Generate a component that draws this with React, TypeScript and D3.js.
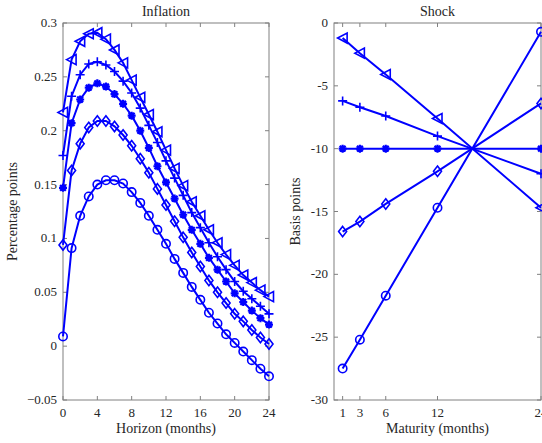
import React from 'react'
import * as d3 from 'd3'

// impulse responses of inflation, horizons 0..24 months
const horizon = [0, 1, 2, 3, 4, 5, 6, 7, 8, 9, 10, 11, 12, 13, 14, 15, 16, 17, 18, 19, 20, 21, 22, 23, 24]
const inflTriangle = [0.217, 0.266, 0.283, 0.290, 0.291, 0.285, 0.275, 0.263, 0.247, 0.231, 0.215, 0.199, 0.182, 0.165, 0.149, 0.134, 0.121, 0.108, 0.096, 0.085, 0.075, 0.066, 0.059, 0.052, 0.046]
const inflPlus = [0.177, 0.232, 0.252, 0.262, 0.264, 0.261, 0.255, 0.246, 0.235, 0.221, 0.205, 0.189, 0.172, 0.156, 0.140, 0.124, 0.110, 0.096, 0.083, 0.071, 0.060, 0.051, 0.044, 0.037, 0.030]
const inflStar = [0.147, 0.207, 0.229, 0.240, 0.244, 0.241, 0.234, 0.225, 0.214, 0.200, 0.184, 0.167, 0.152, 0.137, 0.122, 0.108, 0.095, 0.082, 0.071, 0.060, 0.049, 0.041, 0.033, 0.026, 0.020]
const inflDiamond = [0.094, 0.163, 0.188, 0.203, 0.209, 0.209, 0.204, 0.196, 0.186, 0.174, 0.161, 0.146, 0.131, 0.116, 0.101, 0.087, 0.074, 0.061, 0.050, 0.040, 0.030, 0.023, 0.015, 0.008, 0.002]
const inflCircle = [0.009, 0.091, 0.121, 0.139, 0.150, 0.154, 0.154, 0.151, 0.143, 0.133, 0.121, 0.108, 0.095, 0.081, 0.068, 0.055, 0.043, 0.031, 0.021, 0.011, 0.003, -0.005, -0.013, -0.021, -0.028]

// yield curve shocks by maturity
const maturity = [1, 3, 6, 12, 24]
const shockTriangle = [-1.2, -2.4, -4.1, -7.6, -14.7]
const shockPlus = [-6.2, -6.7, -7.4, -9.0, -12.0]
const shockStar = [-10, -10, -10, -10, -10]
const shockDiamond = [-16.6, -15.8, -14.4, -11.8, -6.4]
const shockCircle = [-27.5, -25.2, -21.7, -14.7, -0.7]

const leftTicksX = [0, 4, 8, 12, 16, 20, 24]
const leftTicksY = [-0.05, 0, 0.05, 0.1, 0.15, 0.2, 0.25, 0.3]
const rightTicksX = [1, 3, 6, 12, 24]
const rightTicksY = [-30, -25, -20, -15, -10, -5, 0]

const blue = '#0000ff'
const axisColor = '#808080'
const font = '"Liberation Serif", "DejaVu Serif", serif'

function markerPath (type: string) {
  switch (type) {
    case 'triangle':
      return 'M-5,0L4.5,-5L4.5,5Z'
    case 'plus':
      return 'M-4.5,0H4.5M0,-4.5V4.5'
    case 'star':
      return 'M-4,0H4M0,-4V4M-2.9,-2.9L2.9,2.9M-2.9,2.9L2.9,-2.9'
    case 'diamond':
      return 'M0,-5.2L4,0L0,5.2L-4,0Z'
    default:
      return 'M-4.2,0A4.2,4.2 0 1,0 4.2,0A4.2,4.2 0 1,0 -4.2,0Z'
  }
}

function Series ({ xs, ys, x, y, type }: any) {
  const line = d3.line<number>().x((d, i) => x(xs[i])).y(d => y(d))
  return (
    <g>
      <path d={line(ys) || ''} fill='none' stroke={blue} strokeWidth={2} />
      {ys.map((v: number, i: number) => (
        <path key={i} d={markerPath(type)} transform={`translate(${x(xs[i])},${y(v)})`}
          fill='none' stroke={blue} strokeWidth={type === 'star' ? 2.2 : 1.6} />
      ))}
    </g>
  )
}

function Frame ({ x, y, xTicks, yTicks, yFmt, title, xLabel, yLabel, yLabelX }: any) {
  const [x0, x1] = x.range()
  const [y0, y1] = y.range()
  const tl = 4
  return (
    <g fontFamily={font} fill='#262626'>
      <rect x={x0} y={y1} width={x1 - x0} height={y0 - y1} fill='none' stroke={axisColor} strokeWidth={1} />
      {xTicks.map((t: number) => (
        <g key={'x' + t}>
          <line x1={x(t)} x2={x(t)} y1={y0} y2={y0 - tl} stroke={axisColor} />
          <line x1={x(t)} x2={x(t)} y1={y1} y2={y1 + tl} stroke={axisColor} />
          <text x={x(t)} y={y0 + 17} textAnchor='middle' fontSize={13}>{t}</text>
        </g>
      ))}
      {yTicks.map((t: number) => (
        <g key={'y' + t}>
          <line x1={x0} x2={x0 + tl} y1={y(t)} y2={y(t)} stroke={axisColor} />
          <line x1={x1} x2={x1 - tl} y1={y(t)} y2={y(t)} stroke={axisColor} />
          <text x={x0 - 6} y={y(t) + 4} textAnchor='end' fontSize={13}>{yFmt(t)}</text>
        </g>
      ))}
      <text x={(x0 + x1) / 2} y={y1 - 7} textAnchor='middle' fontSize={14}>{title}</text>
      <text x={(x0 + x1) / 2} y={y0 + 33} textAnchor='middle' fontSize={14}>{xLabel}</text>
      <text transform={`translate(${yLabelX},${(y0 + y1) / 2}) rotate(-90)`} textAnchor='middle' fontSize={14}>{yLabel}</text>
    </g>
  )
}

export default function App () {
  const width = 542
  const height = 443
  const top = 23
  const bottom = 400

  const xL = d3.scaleLinear().domain([0, 24]).range([63, 269])
  const yL = d3.scaleLinear().domain([-0.05, 0.3]).range([bottom, top])
  const xR = d3.scaleLinear().domain([0, 24]).range([334, 541])
  const yR = d3.scaleLinear().domain([-30, 0]).range([bottom, top])

  const fmtL = (t: number) => (t === 0 ? '0' : d3.format('')(+t.toFixed(2)))
  const fmtR = (t: number) => String(t)

  const left = [
    [inflTriangle, 'triangle'], [inflPlus, 'plus'], [inflStar, 'star'], [inflDiamond, 'diamond'], [inflCircle, 'circle']
  ]
  const right = [
    [shockTriangle, 'triangle'], [shockPlus, 'plus'], [shockStar, 'star'], [shockDiamond, 'diamond'], [shockCircle, 'circle']
  ]

  return (
    <svg width={width} height={height} style={{ position: 'absolute', left: 0, top: 0, background: '#fff' }}>
      <rect width={width} height={height} fill='#fff' />
      <Frame x={xL} y={yL} xTicks={leftTicksX} yTicks={leftTicksY} yFmt={fmtL}
        title='Inflation' xLabel='Horizon (months)' yLabel='Percentage points' yLabelX={17} />
      <Frame x={xR} y={yR} xTicks={rightTicksX} yTicks={rightTicksY} yFmt={fmtR}
        title='Shock' xLabel='Maturity (months)' yLabel='Basis points' yLabelX={300} />
      {left.map(([ys, type]: any) => (
        <Series key={'l' + type} xs={horizon} ys={ys} x={xL} y={yL} type={type} />
      ))}
      {right.map(([ys, type]: any) => (
        <Series key={'r' + type} xs={maturity} ys={ys} x={xR} y={yR} type={type} />
      ))}
    </svg>
  )
}
